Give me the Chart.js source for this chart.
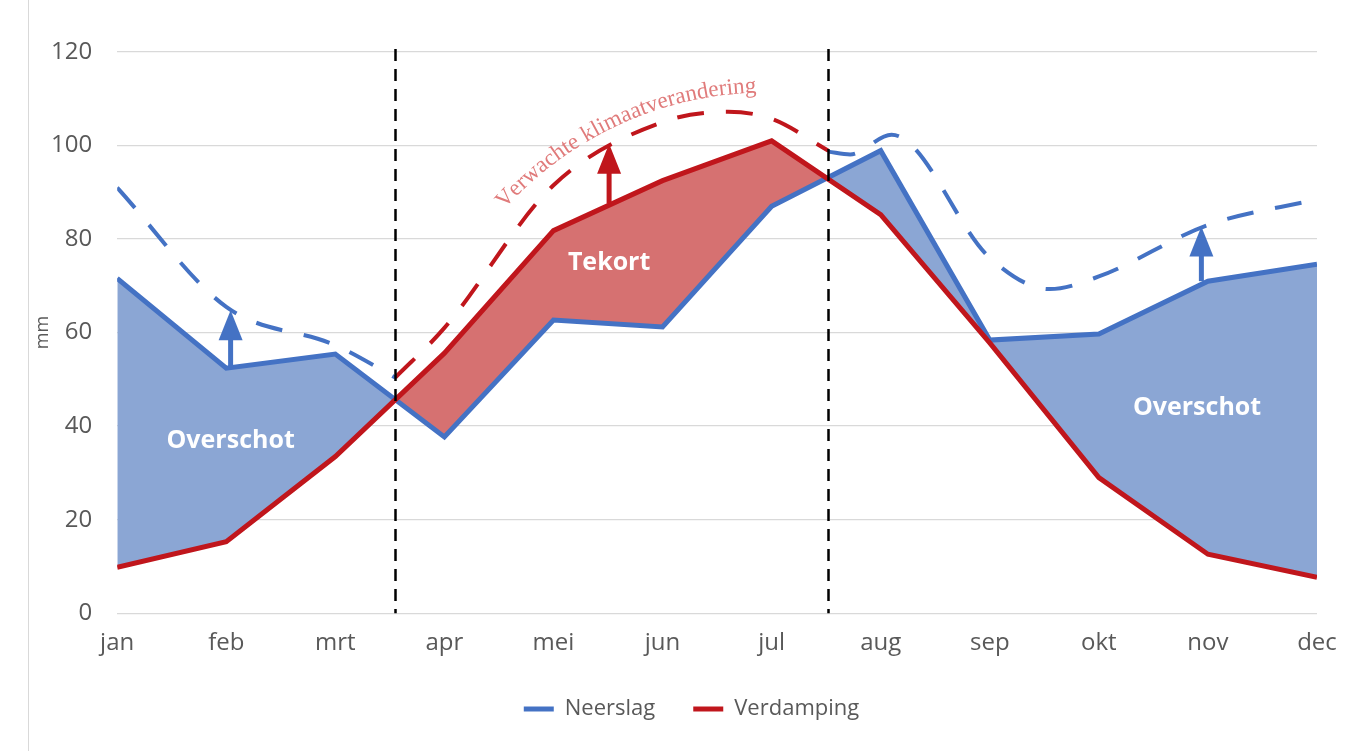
<!DOCTYPE html>
<html><head><meta charset="utf-8">
<script src="https://cdn.jsdelivr.net/npm/chart.js@4/dist/chart.umd.min.js"></script>
<style>
html,body{margin:0;padding:0;background:#fff;overflow:hidden;}
#wrap{position:relative;width:1366px;height:751px;}
#frame{position:absolute;left:28px;top:0;width:1px;height:751px;background:#d9d9d9;}
canvas{position:absolute;left:0;top:0;}
</style></head><body>
<div id="wrap"><div id="frame"></div><canvas id="c" width="1366" height="751"></canvas></div>
<script>
// ---- data ----
const months = ['jan','feb','mrt','apr','mei','jun','jul','aug','sep','okt','nov','dec'];
const neerslag   = [71.6, 52.4, 55.4, 37.7, 62.7, 61.2, 87.0, 98.9, 58.4, 59.7, 71.0, 74.6];
const verdamping = [ 9.8, 15.3, 33.5, 55.6, 81.8, 92.5, 101.0, 85.2, 57.8, 29.0, 12.6, 7.7];
// projected ("verwachte klimaatverandering") dashed curves, x = month index
const projWinterX = [0, 1, 2, 2.55];
const projWinterY = [91.0, 65.5, 57.3, 50.4];
const projZomerX  = [2.55, 3, 4, 5, 5.6, 6, 6.52];
const projZomerY  = [50.4, 61.0, 91.5, 105.0, 107.2, 105.7, 98.9];
const projHerfstX = [6.52, 6.72, 7.1, 8, 8.55, 9, 10, 11];
const projHerfstY = [98.7, 98.1, 102.3, 76.0, 69.3, 72.0, 83.0, 88.5];
const dividers = [2.55, 6.52];
const arrowX    = [1.04, 4.51, 9.94];
const arrowFrom = [52.6, 87.6, 71.0];
const arrowTo   = [64.8, 100.4, 82.7];
const areaLabels = ['Overschot', 'Tekort', 'Overschot'];
const areaLabelX = [1.04, 4.51, 9.9];
const areaLabelY = [36.9, 75.0, 43.9];
const curvedText = 'Verwachte klimaatverandering';
const curvedTextX = [3.55, 4.58, 5.84];
const curvedTextY = [86.4, 104.2, 111.3];
const yTicks = [0, 20, 40, 60, 80, 100, 120];
const yTitle = 'mm';

// ---- style ----
const BLUE = '#4472C4', RED = '#C0161C', BLUE_FILL = '#8BA6D4', RED_FILL = '#D67171', GRAY = '#595959';
const FONT = "'Open Sans', 'Noto Sans', sans-serif";
const arrowColors = [BLUE, RED, BLUE];

const toXY = (xs, ys) => xs.map((v, i) => ({x: v, y: ys[i]}));

const overlay = {
  id: 'overlay',
  afterLayout(chart) {
    // legend in the reference sits slightly right of centre and a bit higher
    const lg = chart.legend;
    if (lg) { lg.left += 20; lg.right += 20; lg.top -= 6; lg.bottom -= 6; }
  },
  afterDraw(chart) {
    const {ctx, chartArea: a} = chart;
    ctx.save();
    ctx.translate(a.left - 74, (a.top + a.bottom) / 2);
    ctx.rotate(-Math.PI / 2);
    ctx.fillStyle = GRAY; ctx.font = `18px ${FONT}`;
    ctx.textAlign = 'center'; ctx.textBaseline = 'middle';
    ctx.fillText(yTitle, 0, 0);
    ctx.restore();
  },
  afterDatasetsDraw(chart) {
    const {ctx, chartArea: a, scales: {x, y}} = chart;
    // vertical dividers
    ctx.save();
    ctx.strokeStyle = '#000'; ctx.lineWidth = 2.5; ctx.setLineDash([12, 8]);
    dividers.forEach(d => {
      const px = Math.round(x.getPixelForValue(d)) + 0.5;
      ctx.beginPath(); ctx.moveTo(px, a.top - 3); ctx.lineTo(px, a.bottom); ctx.stroke();
    });
    ctx.restore();
    // arrows
    ctx.save();
    arrowX.forEach((v, i) => {
      const px = x.getPixelForValue(v);
      const y0 = y.getPixelForValue(arrowFrom[i]);
      const y1 = y.getPixelForValue(arrowTo[i]);
      const head = 30, hw = 12;
      ctx.strokeStyle = arrowColors[i]; ctx.fillStyle = arrowColors[i];
      ctx.lineWidth = 5;
      ctx.beginPath(); ctx.moveTo(px, y0); ctx.lineTo(px, y1 + head - 2); ctx.stroke();
      ctx.beginPath(); ctx.moveTo(px, y1); ctx.lineTo(px - hw, y1 + head); ctx.lineTo(px + hw, y1 + head); ctx.closePath(); ctx.fill();
    });
    ctx.restore();
    // area labels
    ctx.save();
    ctx.fillStyle = '#fff'; ctx.font = `bold 25px ${FONT}`;
    ctx.textAlign = 'center'; ctx.textBaseline = 'middle';
    areaLabels.forEach((t, i) => ctx.fillText(t, x.getPixelForValue(areaLabelX[i]), y.getPixelForValue(areaLabelY[i])));
    ctx.restore();
    // curved text along a circular arc through three reference points
    const p = curvedTextX.map((v, i) => [x.getPixelForValue(v), y.getPixelForValue(curvedTextY[i])]);
    const [ax, ay] = p[0], [bx, by] = p[1], [cx, cy] = p[2];
    const d = 2 * (ax * (by - cy) + bx * (cy - ay) + cx * (ay - by));
    const ux = ((ax*ax+ay*ay)*(by-cy) + (bx*bx+by*by)*(cy-ay) + (cx*cx+cy*cy)*(ay-by)) / d;
    const uy = ((ax*ax+ay*ay)*(cx-bx) + (bx*bx+by*by)*(ax-cx) + (cx*cx+cy*cy)*(bx-ax)) / d;
    const r = Math.hypot(ax - ux, ay - uy);
    const a0 = Math.atan2(ay - uy, ax - ux), a1 = Math.atan2(cy - uy, cx - ux);
    const arcLen = r * (a1 - a0);
    ctx.save();
    const fam = "'Liberation Serif', 'DejaVu Serif', serif";
    ctx.font = `20px ${fam}`;
    const w20 = ctx.measureText(curvedText).width;
    const fs = 20 * arcLen / w20;
    ctx.font = `${fs}px ${fam}`;
    ctx.fillStyle = '#E07B7B'; ctx.textAlign = 'center'; ctx.textBaseline = 'alphabetic';
    let s = 0;
    for (const ch of curvedText) {
      const cw = ctx.measureText(ch).width;
      const ang = a0 + (s + cw / 2) / r;
      ctx.save();
      ctx.translate(ux + r * Math.cos(ang), uy + r * Math.sin(ang));
      ctx.rotate(ang + Math.PI / 2);
      ctx.fillText(ch, 0, 0);
      ctx.restore();
      s += cw;
    }
    ctx.restore();
  }
};

const dashed = (data, color) => ({
  data, borderColor: color, borderWidth: 4, borderDash: [27, 22], pointRadius: 0,
  cubicInterpolationMode: 'monotone', fill: false, order: 3
});

new Chart(document.getElementById('c'), {
  type: 'line',
  data: {
    datasets: [
      { label: 'Neerslag', data: toXY(months.map((m, i) => i), neerslag),
        borderColor: BLUE, backgroundColor: BLUE, borderWidth: 5, pointRadius: 0,
        borderJoinStyle: 'miter', tension: 0,
        fill: { target: 1, above: BLUE_FILL, below: RED_FILL }, order: 2 },
      { label: 'Verdamping', data: toXY(months.map((m, i) => i), verdamping),
        borderColor: RED, backgroundColor: RED, borderWidth: 5, pointRadius: 0,
        borderJoinStyle: 'miter', tension: 0, fill: false, order: 1 },
      dashed(toXY(projWinterX, projWinterY), BLUE),
      dashed(toXY(projZomerX, projZomerY), RED),
      dashed(toXY(projHerfstX, projHerfstY), BLUE)
    ]
  },
  options: {
    responsive: false, animation: false,
    layout: { padding: { left: 26, right: 49, top: 52, bottom: 15 } },
    scales: {
      x: {
        type: 'linear', min: 0, max: 11,
        grid: { display: false }, border: { display: false },
        ticks: { stepSize: 1, autoSkip: false, maxRotation: 0, padding: 8,
          color: GRAY, font: { size: 24, family: FONT },
          callback: v => months[v] }
      },
      y: {
        min: 0, max: 120,
        afterBuildTicks: s => { s.ticks = yTicks.map(v => ({value: v})); },
        grid: { color: '#D9D9D9', lineWidth: 1.3, drawTicks: false }, border: { display: false },
        ticks: { padding: 25, color: GRAY, font: { size: 24, family: FONT } }
      }
    },
    plugins: {
      tooltip: { enabled: false },
      legend: {
        position: 'bottom',
        labels: {
          boxWidth: 30, boxHeight: 5, padding: 38, color: GRAY,
          font: { size: 22, family: FONT },
          generateLabels: chart => [0, 1].map(i => {
            const ds = chart.data.datasets[i];
            return { text: ds.label, fillStyle: ds.borderColor, strokeStyle: ds.borderColor,
                     lineWidth: 0, datasetIndex: i, hidden: false, fontColor: GRAY };
          })
        }
      }
    }
  },
  plugins: [overlay]
});
</script>
</body></html>
